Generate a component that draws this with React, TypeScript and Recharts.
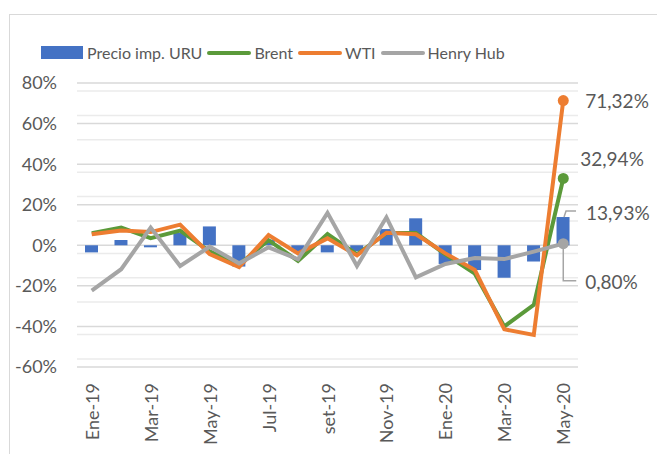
import { ComposedChart, Bar, Line, XAxis, YAxis, CartesianGrid, LabelList } from "recharts";

const months = [
  "Ene-19", "Feb-19", "Mar-19", "Abr-19", "May-19", "Jun-19", "Jul-19", "Ago-19", "set-19",
  "Oct-19", "Nov-19", "Dic-19", "Ene-20", "Feb-20", "Mar-20", "Abr-20", "May-20",
];
const precioUru = [-3.5, 2.6, -1, 6.2, 9.3, -10.5, 2.8, -3, -3.5, -3, 8, 13.3, -9.2, -12.2, -16, -8, 13.93];
const brent = [6, 8.7, 3.5, 7.2, -3, -9.5, 2.5, -7.7, 5.5, -4.5, 6, 6, -4.5, -14, -40, -29.4, 32.94];
const wti = [5.4, 7.3, 6.5, 10.2, -4.3, -10.8, 5, -4, 3.4, -5, 6.2, 5.4, -4, -12.2, -41.4, -44.2, 71.32];
const henryHub = [-22.4, -11.8, 8.7, -10.2, -0.7, -8.9, -1, -6.9, 16, -10.2, 13.8, -15.8, -9.2, -6.3, -6.8, -3.1, 0.8];
const yTicks = [-60, -40, -20, 0, 20, 40, 60, 80];

const data = months.map((m, i) => ({
  month: m,
  uru: precioUru[i],
  brent: brent[i],
  wti: wti[i],
  hh: henryHub[i],
}));

// minor gridlines every 4%, like Excel's default minor unit
const minorTicks = Array.from({ length: 36 }, (_, i) => -60 + i * 4).filter((v) => v % 20 !== 0);

const FONT = "Lato, 'Open Sans', sans-serif";
const TXT = "#595959";
const LAST = months.length - 1;

const C = { uru: "#4472C4", brent: "#5B9A3A", wti: "#ED7D31", hh: "#A5A5A5" };

const fmt = (v: number) => v.toFixed(2).replace(".", ",") + "%";

const lastDot = (color: string) => (p: any) =>
  p.index === LAST ? (
    <circle key={`d${p.index}`} cx={p.cx} cy={p.cy} r={5.5} fill={color} stroke="none" />
  ) : (
    <g key={`d${p.index}`} />
  );

const labelText = (x: number, y: number, v: number) => (
  <text x={x} y={y} fill={TXT} fontSize={19} fontFamily={FONT} dominantBaseline="central">
    {fmt(v)}
  </text>
);

const WtiLabel = (p: any) => (p.index === LAST ? labelText(p.x + 22, p.y, p.value) : null);
const BrentLabel = (p: any) => (p.index === LAST ? labelText(p.x + 17, p.y - 20, p.value) : null);

const UruLabel = (p: any) => {
  if (p.index !== LAST) return null;
  const cx = p.x + p.width / 2;
  const top = p.y;
  return (
    <g>
      <path d={`M${cx + 1},${top} L${cx + 3},${top - 6} H${cx + 13}`} stroke={C.hh} strokeWidth={1.5} fill="none" />
      {labelText(cx + 23, top - 5, p.value)}
    </g>
  );
};

const HhLabel = (p: any) => {
  if (p.index !== LAST) return null;
  return (
    <g>
      <path d={`M${p.x},${p.y + 5} V${p.y + 37} H${p.x + 13}`} stroke={C.hh} strokeWidth={1.5} fill="none" />
      {labelText(p.x + 22, p.y + 38, p.value)}
    </g>
  );
};

const XTick = ({ x, y, payload }: any) => (
  <text
    transform={`translate(${x},${y}) rotate(-90)`}
    textAnchor="end"
    dominantBaseline="central"
    fill={TXT}
    fontSize={18}
    fontFamily={FONT}
  >
    {payload.value}
  </text>
);

const legendItems = [
  { name: "Precio imp. URU", color: C.uru, type: "rect" },
  { name: "Brent", color: C.brent, type: "line" },
  { name: "WTI", color: C.wti, type: "line" },
  { name: "Henry Hub", color: C.hh, type: "line" },
];

const ChartLegend = () => (
  <div
    style={{
      position: "absolute",
      left: 41,
      top: 43,
      display: "flex",
      alignItems: "center",
      fontFamily: FONT,
      fontSize: 16,
      color: TXT,
      whiteSpace: "nowrap",
    }}
  >
    {legendItems.map((it) => (
      <span key={it.name} style={{ display: "flex", alignItems: "center", marginRight: 5 }}>
        {it.type === "rect" ? (
          <span style={{ width: 42, height: 13, background: it.color, marginRight: 4 }} />
        ) : (
          <span style={{ width: 44, height: 4, borderRadius: 2, background: it.color, marginRight: 3 }} />
        )}
        {it.name}
      </span>
    ))}
  </div>
);

export default function App() {
  return (
    <div style={{ position: "absolute", left: 0, top: 0, width: 657, height: 454, overflow: "hidden", background: "#fff" }}>
      <div
        style={{
          position: "absolute",
          left: 9,
          top: 14,
          width: 700,
          height: 500,
          border: "1px solid #d9d9d9",
        }}
      />
      <ChartLegend />
      <div style={{ position: "absolute", left: 0, top: 0 }}>
        <ComposedChart width={657} height={454} data={data} margin={{ top: 83, right: 79, left: 0, bottom: 0 }}>
          <CartesianGrid horizontalValues={minorTicks} vertical={false} stroke="#ebebeb" strokeWidth={1.5} />
          <CartesianGrid vertical={false} stroke="#d9d9d9" strokeWidth={1.5} />
          <XAxis
            dataKey="month"
            interval={1}
            axisLine={false}
            tickLine={false}
            tickSize={0}
            tickMargin={16}
            height={87}
            tick={<XTick />}
          />
          <YAxis
            domain={[-60, 80]}
            ticks={yTicks}
            width={77}
            axisLine={false}
            tickLine={false}
            tickSize={0}
            tickMargin={20}
            tickFormatter={(v: number) => `${v}%`}
            tick={{ fill: TXT, fontSize: 18, fontFamily: FONT }}
          />
          <Bar dataKey="uru" fill={C.uru} barSize={13} isAnimationActive={false}>
            <LabelList dataKey="uru" content={UruLabel} />
          </Bar>
          <Line dataKey="brent" stroke={C.brent} strokeWidth={4} dot={lastDot(C.brent)} activeDot={false} isAnimationActive={false}>
            <LabelList dataKey="brent" content={BrentLabel} />
          </Line>
          <Line dataKey="wti" stroke={C.wti} strokeWidth={4} dot={lastDot(C.wti)} activeDot={false} isAnimationActive={false}>
            <LabelList dataKey="wti" content={WtiLabel} />
          </Line>
          <Line dataKey="hh" stroke={C.hh} strokeWidth={4} dot={lastDot(C.hh)} activeDot={false} isAnimationActive={false}>
            <LabelList dataKey="hh" content={HhLabel} />
          </Line>
        </ComposedChart>
      </div>
    </div>
  );
}
